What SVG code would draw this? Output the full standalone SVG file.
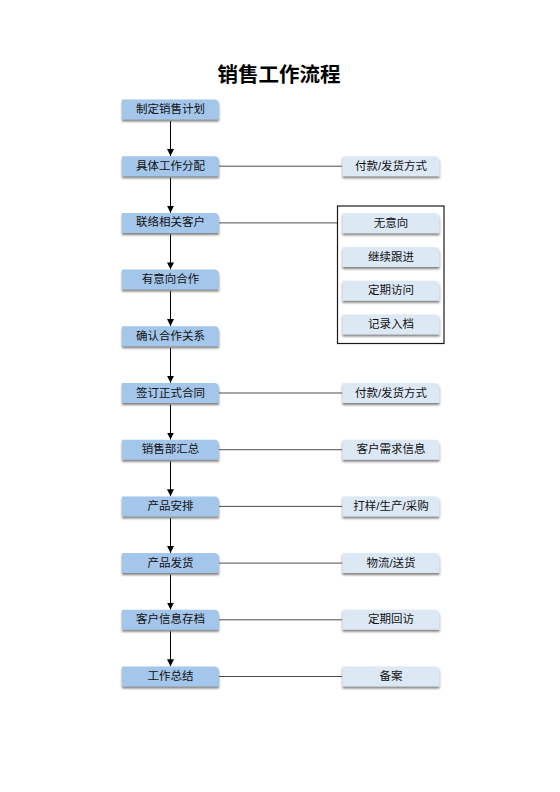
<svg xmlns="http://www.w3.org/2000/svg" xmlns:xlink="http://www.w3.org/1999/xlink" width="560" height="792" viewBox="0 0 560 792">
<defs>
<style>
.title{font-family:"Liberation Sans","Noto Sans CJK SC",sans-serif;font-size:20.5px;font-weight:bold;fill:#000;text-anchor:middle}
.t{font-family:"Liberation Sans","Noto Sans CJK SC",sans-serif;font-size:11.5px;fill:#111;text-anchor:middle}
.ln{fill:#a4c6ea}
.rn{fill:#dde8f5}
.hc{stroke:#4d4d4d;stroke-width:1;fill:none}
.vc{stroke:#000;stroke-width:1;fill:none}
</style>
<filter id="sh" x="-10%" y="-20%" width="120%" height="160%">
<feDropShadow dx="0" dy="2" stdDeviation="0.8" flood-color="#555" flood-opacity="0.75"/>
</filter>
<path id="box" d="M0 0H92Q97 0 97 5V20H0Z"/>
<marker id="ar" viewBox="0 0 8 8" refX="8" refY="4" markerWidth="7" markerHeight="7" markerUnits="userSpaceOnUse" orient="auto">
<path d="M0 0L8 4L0 8Z" fill="#000"/>
</marker>
</defs>
<rect width="560" height="792" fill="#fff"/>
<text class="title" x="279" y="82">销售工作流程</text>

<g id="connectors">
<line class="vc" x1="170.5" y1="121" x2="170.5" y2="156" marker-end="url(#ar)"/>
<line class="vc" x1="170.5" y1="177.7" x2="170.5" y2="212.7" marker-end="url(#ar)"/>
<line class="vc" x1="170.5" y1="234.4" x2="170.5" y2="269.4" marker-end="url(#ar)"/>
<line class="vc" x1="170.5" y1="291.1" x2="170.5" y2="326.1" marker-end="url(#ar)"/>
<line class="vc" x1="170.5" y1="347.8" x2="170.5" y2="382.8" marker-end="url(#ar)"/>
<line class="vc" x1="170.5" y1="404.5" x2="170.5" y2="439.5" marker-end="url(#ar)"/>
<line class="vc" x1="170.5" y1="461.2" x2="170.5" y2="496.2" marker-end="url(#ar)"/>
<line class="vc" x1="170.5" y1="517.9" x2="170.5" y2="552.9" marker-end="url(#ar)"/>
<line class="vc" x1="170.5" y1="574.6" x2="170.5" y2="609.6" marker-end="url(#ar)"/>
<line class="vc" x1="170.5" y1="631.3" x2="170.5" y2="666.3" marker-end="url(#ar)"/>
<line class="hc" x1="219" y1="166.2" x2="342.5" y2="166.2"/>
<line class="hc" x1="219" y1="222.9" x2="337.5" y2="222.9"/>
<line class="hc" x1="219" y1="393" x2="342.5" y2="393"/>
<line class="hc" x1="219" y1="449.7" x2="342.5" y2="449.7"/>
<line class="hc" x1="219" y1="506.4" x2="342.5" y2="506.4"/>
<line class="hc" x1="219" y1="563.1" x2="342.5" y2="563.1"/>
<line class="hc" x1="219" y1="619.8" x2="342.5" y2="619.8"/>
<line class="hc" x1="219" y1="676.5" x2="342.5" y2="676.5"/>
</g>

<g id="n1"><use href="#box" xlink:href="#box" class="ln" filter="url(#sh)" x="122" y="99.5"/><text class="t" x="170.5" y="113">制定销售计划</text></g>
<g id="n2"><use href="#box" xlink:href="#box" class="ln" filter="url(#sh)" x="122" y="156.2"/><text class="t" x="170.5" y="169.7">具体工作分配</text></g>
<g id="n3"><use href="#box" xlink:href="#box" class="ln" filter="url(#sh)" x="122" y="212.9"/><text class="t" x="170.5" y="226.4">联络相关客户</text></g>
<g id="n4"><use href="#box" xlink:href="#box" class="ln" filter="url(#sh)" x="122" y="269.6"/><text class="t" x="170.5" y="283.1">有意向合作</text></g>
<g id="n5"><use href="#box" xlink:href="#box" class="ln" filter="url(#sh)" x="122" y="326.3"/><text class="t" x="170.5" y="339.8">确认合作关系</text></g>
<g id="n6"><use href="#box" xlink:href="#box" class="ln" filter="url(#sh)" x="122" y="383"/><text class="t" x="170.5" y="396.5">签订正式合同</text></g>
<g id="n7"><use href="#box" xlink:href="#box" class="ln" filter="url(#sh)" x="122" y="439.7"/><text class="t" x="170.5" y="453.2">销售部汇总</text></g>
<g id="n8"><use href="#box" xlink:href="#box" class="ln" filter="url(#sh)" x="122" y="496.4"/><text class="t" x="170.5" y="509.9">产品安排</text></g>
<g id="n9"><use href="#box" xlink:href="#box" class="ln" filter="url(#sh)" x="122" y="553.1"/><text class="t" x="170.5" y="566.6">产品发货</text></g>
<g id="n10"><use href="#box" xlink:href="#box" class="ln" filter="url(#sh)" x="122" y="609.8"/><text class="t" x="170.5" y="623.3">客户信息存档</text></g>
<g id="n11"><use href="#box" xlink:href="#box" class="ln" filter="url(#sh)" x="122" y="666.5"/><text class="t" x="170.5" y="680">工作总结</text></g>

<g id="r1"><use href="#box" xlink:href="#box" class="rn" filter="url(#sh)" x="342.5" y="156.2"/><text class="t" x="391" y="169.7">付款/发货方式</text></g>
<g id="grp">
<rect x="337.5" y="206" width="106.5" height="137.5" fill="none" stroke="#1a1a1a" stroke-width="1.2"/>
<g id="g1"><use href="#box" xlink:href="#box" class="rn" filter="url(#sh)" x="342.5" y="213.3"/><text class="t" x="391" y="226.8">无意向</text></g>
<g id="g2"><use href="#box" xlink:href="#box" class="rn" filter="url(#sh)" x="342.5" y="247"/><text class="t" x="391" y="260.5">继续跟进</text></g>
<g id="g3"><use href="#box" xlink:href="#box" class="rn" filter="url(#sh)" x="342.5" y="280.7"/><text class="t" x="391" y="294.2">定期访问</text></g>
<g id="g4"><use href="#box" xlink:href="#box" class="rn" filter="url(#sh)" x="342.5" y="314.4"/><text class="t" x="391" y="327.9">记录入档</text></g>
</g>
<g id="r6"><use href="#box" xlink:href="#box" class="rn" filter="url(#sh)" x="342.5" y="383"/><text class="t" x="391" y="396.5">付款/发货方式</text></g>
<g id="r7"><use href="#box" xlink:href="#box" class="rn" filter="url(#sh)" x="342.5" y="439.7"/><text class="t" x="391" y="453.2">客户需求信息</text></g>
<g id="r8"><use href="#box" xlink:href="#box" class="rn" filter="url(#sh)" x="342.5" y="496.4"/><text class="t" x="391" y="509.9">打样/生产/采购</text></g>
<g id="r9"><use href="#box" xlink:href="#box" class="rn" filter="url(#sh)" x="342.5" y="553.1"/><text class="t" x="391" y="566.6">物流/送货</text></g>
<g id="r10"><use href="#box" xlink:href="#box" class="rn" filter="url(#sh)" x="342.5" y="609.8"/><text class="t" x="391" y="623.3">定期回访</text></g>
<g id="r11"><use href="#box" xlink:href="#box" class="rn" filter="url(#sh)" x="342.5" y="666.5"/><text class="t" x="391" y="680">备案</text></g>
</svg>
